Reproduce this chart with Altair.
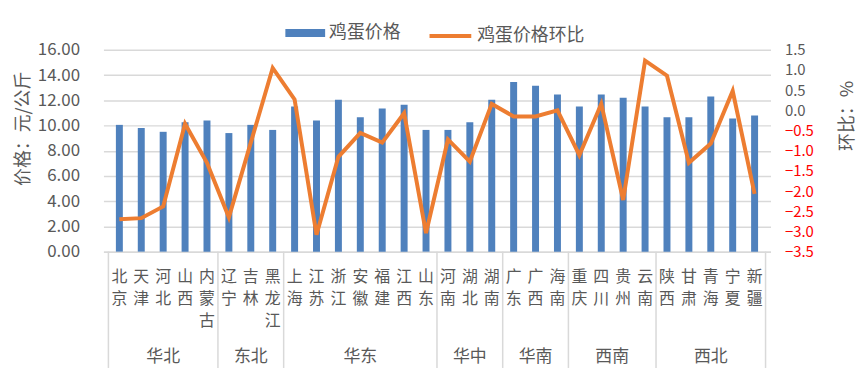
import altair as alt
import pandas as pd

provinces = ["北京", "天津", "河北", "山西", "内蒙古",
             "辽宁", "吉林", "黑龙江",
             "上海", "江苏", "浙江", "安徽", "福建", "江西", "山东",
             "河南", "湖北", "湖南",
             "广东", "广西", "海南",
             "重庆", "四川", "贵州", "云南",
             "陕西", "甘肃", "青海", "宁夏", "新疆"]
regions = ["华北", "东北", "华东", "华中", "华南", "西南", "西北"]
region_sizes = [5, 3, 7, 3, 3, 4, 5]
price = [10.05, 9.8, 9.5, 10.25, 10.4,
         9.4, 10.05, 9.65,
         11.5, 10.4, 12.05, 10.65, 11.35, 11.65, 9.65,
         9.65, 10.25, 12.05,
         13.45, 13.15, 12.45,
         11.5, 12.45, 12.2, 11.5,
         10.65, 10.65, 12.3, 10.55, 10.8]
mom = [-2.7, -2.67, -2.38, -0.33, -1.3,
       -2.65, -0.8, 1.05,
       0.27, -3.08, -1.15, -0.56, -0.8, -0.07, -3.04,
       -0.72, -1.27, 0.16,
       -0.15, -0.15, 0.0,
       -1.11, 0.16, -2.22, 1.23,
       0.86, -1.3, -0.82, 0.48, -2.07]

FONT = "Noto Sans CJK SC"
GREY = "#595959"
LINEC = "#D9D9D9"

df = pd.DataFrame({
    "idx": list(range(len(provinces))),
    "province": provinces,
    "label": ["\n".join(list(p)) for p in provinces],
    "price": price,
    "mom": mom,
    "s1": ["鸡蛋价格"] * len(provinces),
    "s2": ["鸡蛋价格环比"] * len(provinces),
})

starts = []
s = 0
for n in region_sizes:
    starts.append(s)
    s += n
grp = pd.DataFrame({
    "region": regions,
    "center": [st + (n - 1) / 2 for st, n in zip(starts, region_sizes)],
})
bounds = pd.DataFrame({"b": [st - 0.5 for st in starts] + [len(provinces) - 0.5]})

xscale = alt.Scale(domain=[-0.5, len(provinces) - 0.5], nice=False, zero=False)

bars = alt.Chart(df).mark_bar(size=7, color="#4F81BD").encode(
    x=alt.X("idx:Q", scale=xscale,
            axis=alt.Axis(labels=False, ticks=False, grid=False, title=None,
                          domain=True, domainColor=LINEC, domainWidth=1.5)),
    y=alt.Y("price:Q", scale=alt.Scale(domain=[0, 16], nice=False),
            axis=alt.Axis(orient="left", title="价格：元/公斤", values=list(range(0, 17, 2)),
                          format=".2f", grid=True, gridColor=LINEC, gridWidth=1.5,
                          ticks=False, domain=False, labelPadding=24,
                          titleX=-80, titleY=79, titleAngle=270, titleAlign="center",
                          titleBaseline="middle", titleFontSize=18,
                          titleFontWeight="normal", titleColor=GREY)),
    color=alt.Color("s1:N", scale=alt.Scale(range=["#4F81BD"]),
                    legend=alt.Legend(title=None, orient="none", legendX=183, legendY=-37,
                                      symbolType="M-1,-0.2H1V0.2H-1Z", symbolSize=1600,
                                      symbolStrokeWidth=0, labelOffset=4, padding=0)),
)

line = alt.Chart(df).mark_line(strokeWidth=4, strokeJoin="miter", color="#ED7D31").encode(
    x=alt.X("idx:Q", scale=xscale),
    y=alt.Y("mom:Q", scale=alt.Scale(domain=[-3.5, 1.5], nice=False),
            axis=alt.Axis(orient="right", title="环比：%", values=[1.5, 1.0, 0.5, 0.0, -0.5, -1.0, -1.5, -2.0, -2.5, -3.0, -3.5],
                          format=".1f", grid=False, ticks=False, domain=False,
                          labelPadding=14, labelFontSize=15,
                          labelColor={"condition": {"test": "datum.value < 0", "value": "#FF0000"}, "value": GREY},
                          titleX=77, titleY=66, titleAngle=270, titleAlign="center",
                          titleBaseline="middle", titleFontSize=18,
                          titleFontWeight="normal", titleColor=GREY)),
    stroke=alt.Stroke("s2:N", scale=alt.Scale(range=["#ED7D31"]),
                      legend=alt.Legend(title=None, orient="none", legendX=326, legendY=-37,
                                        symbolType="stroke", symbolSize=1764,
                                        symbolStrokeWidth=4, labelOffset=4, padding=0)),
)

prov_text = alt.Chart(df).mark_text(lineBreak="\n", lineHeight=22, baseline="top",
                                    fontSize=16, color=GREY, font=FONT).encode(
    x=alt.X("idx:Q", scale=xscale),
    y=alt.value(221),
    text="label:N",
)

grp_text = alt.Chart(grp).mark_text(baseline="middle", fontSize=17, color=GREY, font=FONT).encode(
    x=alt.X("center:Q", scale=xscale),
    y=alt.value(309),
    text="region:N",
)

seps = alt.Chart(bounds).mark_rule(color=LINEC, strokeWidth=1.5).encode(
    x=alt.X("b:Q", scale=xscale),
    y=alt.value(203),
    y2=alt.value(320),
)

chart = alt.layer(bars, line, seps, prov_text, grp_text).resolve_scale(
    y="independent", color="independent", stroke="independent"
).properties(
    width=671, height=203,
    padding={"left": 96, "top": 41, "right": 89, "bottom": 120},
    autosize=alt.AutoSizeParams(type="none"),
).configure(
    font=FONT,
).configure_view(
    stroke=None,
).configure_axis(
    labelFont=FONT, titleFont=FONT, labelFontSize=17, labelColor=GREY,
).configure_legend(
    labelFont=FONT, labelFontSize=18, labelColor=GREY,
)

chart.save("out.html", embed_options={"renderer": "svg", "actions": False})
